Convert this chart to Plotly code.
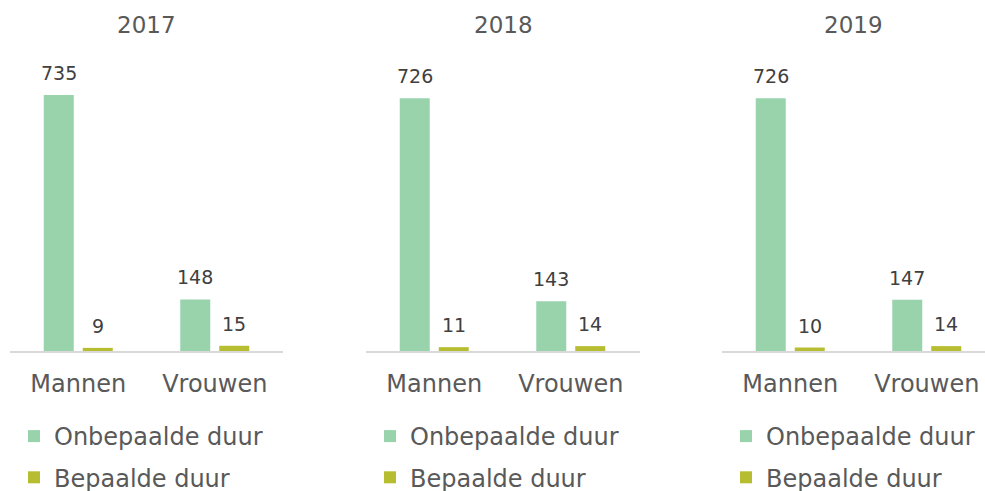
import plotly.graph_objects as go

years = ["2017", "2018", "2019"]
categories = ["Mannen", "Vrouwen"]
series_names = ["Onbepaalde duur", "Bepaalde duur"]
onbepaalde_2017 = [735, 148]
bepaalde_2017 = [9, 15]
onbepaalde_2018 = [726, 143]
bepaalde_2018 = [11, 14]
onbepaalde_2019 = [726, 147]
bepaalde_2019 = [10, 14]

panels = [
    (years[0], onbepaalde_2017, bepaalde_2017),
    (years[1], onbepaalde_2018, bepaalde_2018),
    (years[2], onbepaalde_2019, bepaalde_2019),
]

W, H = 985, 491
FONT = "DejaVu Sans"
TXT = "#595959"
LBL = "#404040"
colors = ["#98D3AC", "#B6BD30"]

# pixel geometry
x_domains_px = [(10, 283), (366, 640), (722, 985)]
cat_px = 273 / 2
axis_y_px, top_px = 351, 60
px_per_unit = 256 / 735

fig = go.Figure()
annotations = []
legend_names = ["legend", "legend2", "legend3"]
ax_names = ["", "2", "3"]

for i, (year, onb, bep) in enumerate(panels):
    xa = "x" + ax_names[i]
    ya = "y" + ax_names[i]
    for j, (name, vals) in enumerate(zip(series_names, [onb, bep])):
        fig.add_trace(go.Bar(
            x=categories, y=vals, name=name,
            marker=dict(color=colors[j], line=dict(width=0)),
            xaxis=xa, yaxis=ya,
            legend=legend_names[i], legendgroup=f"g{i}{j}",
            hoverinfo="x+y+name",
        ))
        for c, v in zip(categories, vals):
            annotations.append(dict(
                x=c, y=v, xref=xa, yref=ya, text=str(v), showarrow=False,
                xshift=(-19.5 if j == 0 else 19.5), yshift=9, yanchor="bottom",
                font=dict(family=FONT, size=19, color=LBL),
            ))
    annotations.append(dict(
        x=0.5, xref=f"{xa} domain", y=1 - 25 / H, yref="paper",
        text=year, showarrow=False, yanchor="middle", xanchor="center",
        font=dict(family=FONT, size=23, color=TXT),
    ))

layout = dict(
    width=W, height=H, margin=dict(l=0, r=0, t=0, b=0, autoexpand=False),
    paper_bgcolor="white", plot_bgcolor="white",
    barmode="group", bargap=0.4286, bargroupgap=0.2308,
    annotations=annotations, showlegend=True,
)

for i in range(3):
    x0, x1 = x_domains_px[i]
    rng_end = -0.5 + (x1 - x0) / cat_px
    layout["xaxis" + ax_names[i]] = dict(
        domain=[x0 / W, x1 / W], range=[-0.5, rng_end], anchor="y" + ax_names[i],
        showline=True, linecolor="#D9D9D9", linewidth=2, ticks="",
        showgrid=False, zeroline=False, ticklabelstandoff=10,
        tickfont=dict(family=FONT, size=24, color=TXT), fixedrange=True,
        automargin=False,
    )
    layout["yaxis" + ax_names[i]] = dict(
        domain=[1 - axis_y_px / H, 1 - top_px / H],
        range=[0, (axis_y_px - top_px) / px_per_unit],
        anchor="x" + ax_names[i], visible=False, showgrid=False, zeroline=False,
        fixedrange=True, automargin=False,
    )
    layout[legend_names[i]] = dict(
        x=(x0 + 4) / W, xanchor="left", y=1 - 414 / H, yanchor="top",
        orientation="v", tracegroupgap=7, bgcolor="rgba(0,0,0,0)",
        font=dict(family=FONT, size=24, color=TXT), traceorder="grouped",
    )

fig.update_layout(**layout)
fig.write_html(
    "out.html",
    config={"displayModeBar": False},
    post_script="document.body.style.margin='0';document.body.style.overflow='hidden';",
)
